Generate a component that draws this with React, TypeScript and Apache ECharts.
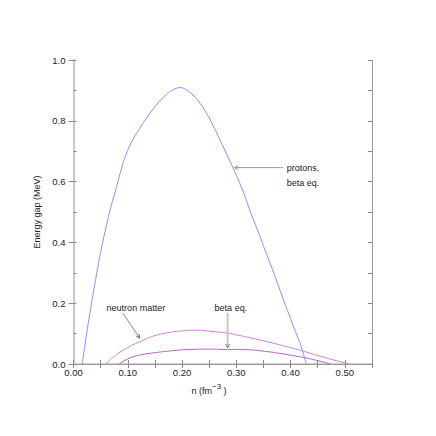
import React, { useEffect, useRef } from "react";
import * as echarts from "echarts";

const protonX = [0.016, 0.023, 0.030, 0.038, 0.045, 0.052, 0.06, 0.068, 0.079, 0.088, 0.097, 0.11, 0.122, 0.137, 0.152, 0.165, 0.177, 0.187, 0.196, 0.208, 0.220, 0.233, 0.245, 0.257, 0.266, 0.276, 0.294, 0.313, 0.325, 0.337, 0.356, 0.372, 0.386, 0.396, 0.405, 0.413, 0.42, 0.429];
const protonY = [0, 0.085, 0.165, 0.25, 0.32, 0.385, 0.45, 0.51, 0.58, 0.64, 0.69, 0.74, 0.775, 0.815, 0.85, 0.876, 0.895, 0.905, 0.909, 0.902, 0.885, 0.858, 0.825, 0.785, 0.752, 0.714, 0.645, 0.565, 0.505, 0.45, 0.36, 0.285, 0.215, 0.168, 0.125, 0.088, 0.055, 0];

const neutronX = [0.061, 0.066, 0.075, 0.083, 0.092, 0.107, 0.122, 0.137, 0.153, 0.168, 0.184, 0.2, 0.215, 0.23, 0.245, 0.262, 0.282, 0.3, 0.331, 0.36, 0.393, 0.42, 0.454, 0.48, 0.508];
const neutronY = [0, 0.012, 0.025, 0.036, 0.046, 0.061, 0.073, 0.085, 0.095, 0.101, 0.106, 0.109, 0.111, 0.111, 0.109, 0.106, 0.102, 0.096, 0.084, 0.072, 0.057, 0.044, 0.026, 0.013, 0];

const betaX = [0.084, 0.095, 0.11, 0.13, 0.153, 0.184, 0.215, 0.25, 0.276, 0.3, 0.331, 0.356, 0.38, 0.4, 0.423, 0.45, 0.474];
const betaY = [0, 0.012, 0.024, 0.032, 0.038, 0.044, 0.048, 0.049, 0.048, 0.048, 0.046, 0.041, 0.035, 0.029, 0.022, 0.011, 0];

const FONT = "Liberation Sans, Arial, Helvetica, sans-serif";

function zip(xs: number[], ys: number[]) {
  return xs.map((x, i) => [x, ys[i]]);
}

export default function App() {
  const ref = useRef<HTMLDivElement>(null);
  useEffect(() => {
    document.body.style.margin = "0";
    document.body.style.overflow = "hidden";
    const chart = echarts.init(ref.current!, null, { renderer: "svg" });
    const tickSty = { color: "#888", width: 1 };
    chart.setOption({
      animation: false,
      backgroundColor: "#fff",
      grid: { left: 73.5, right: 64, top: 60, bottom: 72, containLabel: false },
      xAxis: [
        {
          type: "value", position: "bottom", min: 0, max: 0.55, interval: 0.05,
          axisLine: { show: true, lineStyle: { color: "#c4c4c4", width: 1.5 } },
          axisTick: { show: true, inside: true, length: 4, lineStyle: tickSty },
          axisLabel: {
            show: true, margin: 3, fontSize: 9.5, color: "#222", fontFamily: FONT,
            formatter: (v: number) => (Math.round(v * 100) % 10 === 0 ? v.toFixed(2) : ""),
          },
          splitLine: { show: false },
        },
        {
          type: "value", position: "top", min: 0, max: 0.55, interval: 0.05,
          axisLine: { show: true, lineStyle: { color: "#999", width: 1 } },
          axisTick: { show: true, inside: true, length: 4, lineStyle: tickSty },
          axisLabel: { show: false },
          splitLine: { show: false },
        },
      ],
      yAxis: [
        {
          type: "value", position: "left", min: 0, max: 1, interval: 0.2,
          axisLine: { show: true, lineStyle: { color: "#c8c8c8", width: 2 } },
          axisTick: { show: true, inside: false, length: 5, lineStyle: tickSty },
          axisLabel: {
            show: true, margin: 8, fontSize: 9.5, color: "#222", fontFamily: FONT,
            formatter: (v: number) => v.toFixed(1),
          },
          splitLine: { show: false },
          name: "Energy gap (MeV)", nameLocation: "middle", nameGap: 30, nameRotate: 90,
          nameTextStyle: { fontSize: 9, color: "#222", fontFamily: FONT },
        },
        {
          type: "value", position: "left", min: 0, max: 1, interval: 0.1,
          axisLine: { show: false },
          axisTick: { show: true, inside: true, length: 3, lineStyle: tickSty },
          axisLabel: { show: false },
          splitLine: { show: false },
        },
        {
          type: "value", position: "right", min: 0, max: 1, interval: 0.1,
          axisLine: { show: true, lineStyle: { color: "#999", width: 1 } },
          axisTick: { show: true, inside: true, length: 4, lineStyle: tickSty },
          axisLabel: { show: false },
          splitLine: { show: false },
        },
      ],
      series: [
        {
          type: "line", name: "protons, beta eq.", data: zip(protonX, protonY), smooth: 0.5,
          showSymbol: false, lineStyle: { color: "#8a8aff", width: 1 }, z: 3,
        },
        {
          type: "line", name: "neutron matter", data: zip(neutronX, neutronY), smooth: 0.5,
          showSymbol: false, lineStyle: { color: "#cc80d4", width: 1 }, z: 3,
        },
        {
          type: "line", name: "beta eq.", data: zip(betaX, betaY), smooth: 0.5,
          showSymbol: false, lineStyle: { color: "#b060b8", width: 1 }, z: 3,
        },
      ],
    });

    const p = (x: number, y: number) =>
      chart.convertToPixel({ xAxisIndex: 0, yAxisIndex: 0 }, [x, y]) as number[];

    const arrowHead = (tip: number[], from: number[], color: string) => {
      const dx = tip[0] - from[0];
      const dy = tip[1] - from[1];
      const len = Math.hypot(dx, dy);
      const ux = dx / len, uy = dy / len;
      const L = 4, W = 2;
      const a = [tip[0] - ux * L - uy * W, tip[1] - uy * L + ux * W];
      const b = [tip[0] - ux * L + uy * W, tip[1] - uy * L - ux * W];
      return {
        type: "polyline",
        shape: { points: [a, tip, b] },
        style: { stroke: color, lineWidth: 1, fill: null },
        z: 10,
      };
    };

    const pa1 = p(0.386, 0.646), pa2 = p(0.2965, 0.646);
    const na1 = p(0.091, 0.167), na2 = p(0.122, 0.085);
    const ba1 = p(0.284, 0.168), ba2 = p(0.284, 0.053);
    const tProt = p(0.393, 0.646);
    const tNeut = p(0.061, 0.185);
    const tBeta = p(0.26, 0.185);

    const txt = (pos: number[], text: string, dy = 0) => ({
      type: "text",
      x: pos[0], y: pos[1] + dy,
      style: { text, fontSize: 9, fill: "#222", font: `9px ${FONT}`, textVerticalAlign: "middle", verticalAlign: "middle" },
      z: 10,
    });

    chart.setOption({
      graphic: [
        { type: "line", shape: { x1: pa1[0], y1: pa1[1], x2: pa2[0], y2: pa2[1] }, style: { stroke: "#999", lineWidth: 1 }, z: 10 },
        arrowHead(pa2, pa1, "#999"),
        { type: "line", shape: { x1: na1[0], y1: na1[1], x2: na2[0], y2: na2[1] }, style: { stroke: "#888", lineWidth: 1 }, z: 10 },
        arrowHead(na2, na1, "#777"),
        { type: "line", shape: { x1: ba1[0], y1: ba1[1], x2: ba2[0], y2: ba2[1] }, style: { stroke: "#c8c8c8", lineWidth: 2 }, z: 10 },
        arrowHead(ba2, ba1, "#777"),
        txt(tProt, "protons,"),
        txt(tProt, "beta eq.", 15),
        txt(tNeut, "neutron matter"),
        txt(tBeta, "beta eq."),
        {
          type: "text", x: 191.5, y: 391, z: 10,
          style: {
            text: "n (fm{sup|−3} )", font: `9px ${FONT}`, fill: "#222", verticalAlign: "middle",
            rich: { sup: { fontSize: 8, fontFamily: FONT, padding: [0, 0, 10, 0], fill: "#222" } },
          },
        },
      ],
    });
    return () => chart.dispose();
  }, []);
  return <div ref={ref} style={{ width: 436, height: 436 }} />;
}
